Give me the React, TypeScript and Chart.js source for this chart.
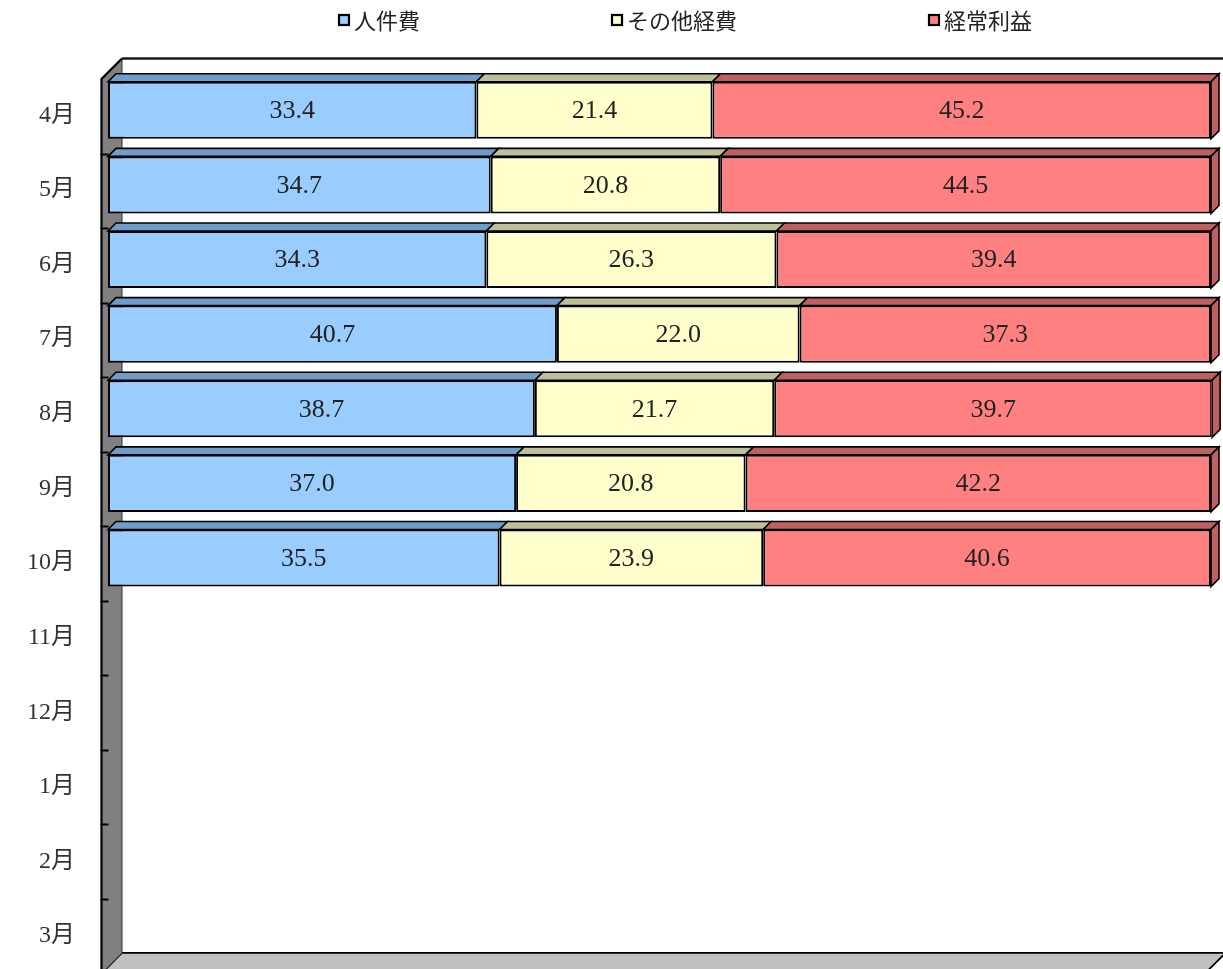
import React, { useEffect, useRef } from 'react';
import { Chart, registerables } from 'chart.js';

Chart.register(...registerables);

const categories = ['4月', '5月', '6月', '7月', '8月', '9月', '10月', '11月', '12月', '1月', '2月', '3月'];
const seriesNames = ['人件費', 'その他経費', '経常利益'];
const personnel = [33.4, 34.7, 34.3, 40.7, 38.7, 37.0, 35.5, null, null, null, null, null];
const otherCosts = [21.4, 20.8, 26.3, 22.0, 21.7, 20.8, 23.9, null, null, null, null, null];
const profit = [45.2, 44.5, 39.4, 37.3, 39.7, 42.2, 40.6, null, null, null, null, null];

const frontColors = ['#99ccff', '#ffffcc', '#ff8080'];
const sideColors = ['#6e9ccb', '#bfbf99', '#bf6060'];

const SERIF = '"Liberation Serif", "Noto Sans CJK JP", serif';
const SANS = '"Noto Sans CJK JP", "Noto Sans", sans-serif';

function poly(ctx: CanvasRenderingContext2D, pts: number[][]) {
  ctx.beginPath();
  ctx.moveTo(pts[0][0], pts[0][1]);
  for (let i = 1; i < pts.length; i++) ctx.lineTo(pts[i][0], pts[i][1]);
  ctx.closePath();
}

const threeD = {
  id: 'threeD',
  beforeDatasetsDraw(chart: any) {
    const { ctx, chartArea: ca } = chart;
    const fx0 = ca.left - 6.5;
    const fy0 = ca.top + 6;
    const fx1 = ca.right - 6;
    const fy1 = ca.bottom + 5;
    const D = 20.5;
    ctx.save();
    // back wall top edge
    ctx.strokeStyle = '#1a1a1a';
    ctx.lineWidth = 2.5;
    ctx.beginPath();
    ctx.moveTo(fx0 + D, fy0 - D);
    ctx.lineTo(fx1 + D + 10, fy0 - D);
    ctx.stroke();
    // floor
    poly(ctx, [[fx0, fy1], [fx1, fy1], [fx1 + D, fy1 - D], [fx0 + D, fy1 - D]]);
    ctx.fillStyle = '#c0c0c0';
    ctx.fill();
    ctx.strokeStyle = '#000';
    ctx.lineWidth = 1.8;
    ctx.stroke();
    // left wall
    poly(ctx, [[fx0, fy0], [fx0 + D, fy0 - D], [fx0 + D, fy1 - D], [fx0, fy1]]);
    ctx.fillStyle = '#808080';
    ctx.fill();
    ctx.strokeStyle = '#333';
    ctx.lineWidth = 1;
    ctx.stroke();
    ctx.strokeStyle = '#000';
    ctx.lineWidth = 2.2;
    ctx.beginPath();
    ctx.moveTo(fx0, fy1);
    ctx.lineTo(fx0, fy0);
    ctx.lineTo(fx0 + D, fy0 - D);
    ctx.stroke();
    // tick marks
    const n = categories.length;
    const step = (fy1 - fy0) / n;
    ctx.lineWidth = 2;
    for (let i = 1; i < n; i++) {
      const y = Math.round(fy0 + i * step) + 0.5;
      ctx.beginPath();
      ctx.moveTo(fx0 - 1, y);
      ctx.lineTo(fx0 + 7, y);
      ctx.stroke();
    }
    ctx.restore();
  },
  afterDatasetsDraw(chart: any) {
    const { ctx } = chart;
    const d = 8;
    const nSets = chart.data.datasets.length;
    ctx.save();
    for (let di = 0; di < nSets; di++) {
      const meta = chart.getDatasetMeta(di);
      const data = chart.data.datasets[di].data;
      meta.data.forEach((el: any, i: number) => {
        if (data[i] == null) return;
        const p = el.getProps(['x', 'y', 'base', 'height'], true);
        const x0 = Math.min(p.x, p.base);
        const x1 = Math.max(p.x, p.base);
        const yt = p.y - p.height / 2;
        const yb = p.y + p.height / 2;
        ctx.fillStyle = sideColors[di];
        ctx.strokeStyle = '#000';
        ctx.lineWidth = 1.6;
        poly(ctx, [[x0, yt], [x0 + d, yt - d], [x1 + d, yt - d], [x1, yt]]);
        ctx.fill();
        ctx.stroke();
        if (di === nSets - 1) {
          poly(ctx, [[x1, yt], [x1 + d, yt - d], [x1 + d, yb - d], [x1, yb]]);
          ctx.fill();
          ctx.stroke();
        }
      });
    }
    // value labels
    ctx.fillStyle = '#222';
    ctx.font = `26px ${SERIF}`;
    ctx.textAlign = 'center';
    ctx.textBaseline = 'middle';
    for (let di = 0; di < nSets; di++) {
      const meta = chart.getDatasetMeta(di);
      const data = chart.data.datasets[di].data;
      meta.data.forEach((el: any, i: number) => {
        if (data[i] == null) return;
        const p = el.getProps(['x', 'y', 'base'], true);
        ctx.fillText(Number(data[i]).toFixed(1), (p.x + p.base) / 2, p.y + 1);
      });
    }
    ctx.restore();
  },
  afterDraw(chart: any) {
    const { ctx } = chart;
    ctx.save();
    ctx.font = `22px ${SANS}`;
    ctx.textBaseline = 'middle';
    ctx.textAlign = 'left';
    let x = 338;
    const y = 21;
    chart.data.datasets.forEach((ds: any, i: number) => {
      ctx.fillStyle = frontColors[i];
      ctx.fillRect(x + 1, y - 6, 10, 10);
      ctx.strokeStyle = '#000';
      ctx.lineWidth = 2.2;
      ctx.strokeRect(x + 1, y - 6, 10, 10);
      ctx.fillStyle = '#222';
      ctx.fillText(ds.label, x + 16, y);
      const w = ctx.measureText(ds.label).width;
      x = x + 16 + w + 191;
    });
    ctx.restore();
  },
};

export default function App() {
  const ref = useRef<HTMLCanvasElement | null>(null);
  useEffect(() => {
    if (!ref.current) return;
    const seriesData = [personnel, otherCosts, profit];
    const chart = new Chart(ref.current, {
      type: 'bar',
      data: {
        labels: categories,
        datasets: seriesNames.map((name, i) => ({
          label: name,
          data: seriesData[i],
          backgroundColor: frontColors[i],
          borderColor: '#000',
          borderWidth: 2,
          borderSkipped: false,
          categoryPercentage: 1,
          barPercentage: 0.765,
        })),
      },
      options: {
        indexAxis: 'y',
        responsive: false,
        animation: false,
        layout: { padding: { top: 73, right: 12, bottom: 0.6, left: 0 } },
        plugins: {
          legend: { display: false },
          tooltip: { enabled: false },
        },
        scales: {
          x: { stacked: true, min: 0, max: 100, display: false },
          y: {
            stacked: true,
            grid: { display: false, drawTicks: false },
            border: { display: false },
            ticks: {
              color: '#333',
              font: { family: SERIF, size: 24 },
              padding: 33,
              labelOffset: 5,
              autoSkip: false,
            },
            afterFit: (s: any) => {
              s.width = 108;
              s.paddingTop = 0;
              s.paddingBottom = 0;
            },
          },
        },
      } as any,
      plugins: [threeD],
    });
    return () => chart.destroy();
  }, []);
  return (
    <div style={{ position: 'fixed', left: 0, top: 0, width: 1223, height: 969, background: '#fff' }}>
      <canvas ref={ref} width={1223} height={969} />
    </div>
  );
}
